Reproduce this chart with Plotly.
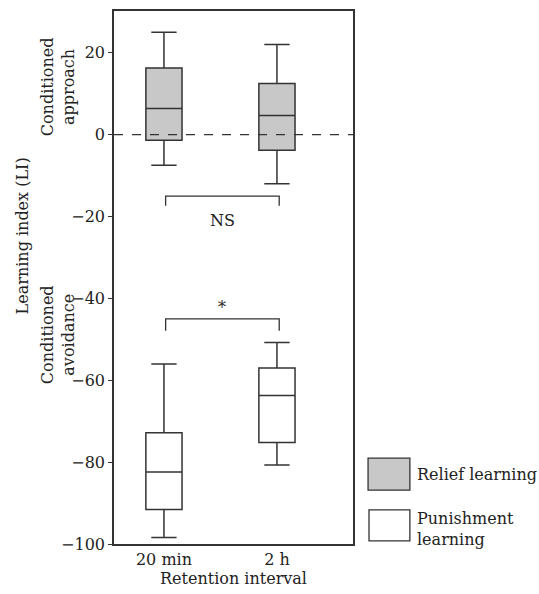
import plotly.graph_objects as go

# Retention intervals (x positions 0 and 1)
intervals = ["20 min", "2 h"]
positions = [0, 1]

# Relief learning (conditioned approach) box statistics
relief_upper = [25.0, 22.0]
relief_q3 = [16.3, 12.5]
relief_median = [6.4, 4.7]
relief_q1 = [-1.4, -3.8]
relief_lower = [-7.5, -12.0]

# Punishment learning (conditioned avoidance) box statistics
punish_upper = [-56.0, -50.8]
punish_q3 = [-72.8, -57.0]
punish_median = [-82.4, -63.7]
punish_q1 = [-91.6, -75.2]
punish_lower = [-98.4, -80.7]

# Significance brackets: (bar level, tick end level, label)
brackets = [(-15.0, -17.4, "NS"), (-45.0, -47.9, "*")]

y_ticks = [20, 0, -20, -40, -60, -80, -100]
y_labels = ["20", "0", "\u221220", "\u221240", "\u221260", "\u221280", "\u2212100"]

FONT = "DejaVu Serif"
FS = 16
LINE = "#333333"
GRAY = "#c8c8c8"
TXT = "#222222"

fig = go.Figure()

fig.add_trace(go.Box(
    x=positions, q1=relief_q1, median=relief_median, q3=relief_q3,
    lowerfence=relief_lower, upperfence=relief_upper,
    width=0.32, whiskerwidth=0.7, fillcolor=GRAY,
    line=dict(color=LINE, width=1.5), name="Relief learning",
    boxpoints=False, showlegend=False, hoverinfo="skip",
))
fig.add_trace(go.Box(
    x=positions, q1=punish_q1, median=punish_median, q3=punish_q3,
    lowerfence=punish_lower, upperfence=punish_upper,
    width=0.32, whiskerwidth=0.7, fillcolor="white",
    line=dict(color=LINE, width=1.5), name="Punishment learning",
    boxpoints=False, showlegend=False, hoverinfo="skip",
))

shapes = []
annotations = []


def label(text, **kw):
    base = dict(showarrow=False, font=dict(family=FONT, size=FS, color=TXT))
    base.update(kw)
    base["text"] = text
    annotations.append(base)


# Zero reference line
shapes.append(dict(type="line", xref="paper", x0=0, x1=1, yref="y", y0=0, y1=0,
                   line=dict(color=LINE, width=1.3, dash="dash")))

# Brackets between the two intervals
for bar, end, text in brackets:
    x0, x1 = positions[0] + 0.015, positions[1] + 0.02
    shapes.append(dict(type="path",
                       path=f"M {x0},{end} L {x0},{bar} L {x1},{bar} L {x1},{end}",
                       line=dict(color=LINE, width=1.3)))
    if text == "NS":
        label(text, x=(x0 + x1) / 2, y=end, yshift=-3, xanchor="center", yanchor="top")
    else:
        label(text, x=(x0 + x1) / 2, y=bar, yshift=0, xanchor="center", yanchor="bottom")

# Axis side labels
label("Learning index (LI)", xref="paper", yref="paper", x=-0.385, y=0.579,
      textangle=-90, xanchor="center", yanchor="middle")
label("Conditioned<br>approach", xref="paper", yref="paper", x=-0.236, y=0.858,
      textangle=-90, xanchor="center", yanchor="middle")
label("Conditioned<br>avoidance", xref="paper", yref="paper", x=-0.236, y=0.393,
      textangle=-90, xanchor="center", yanchor="middle")

# Legend keys
shapes.append(dict(type="rect", xref="paper", yref="paper", x0=1.063, x1=1.238,
                   y0=0.101, y1=0.161, fillcolor=GRAY, line=dict(color=LINE, width=1.3)))
shapes.append(dict(type="rect", xref="paper", yref="paper", x0=1.067, x1=1.238,
                   y0=0.006, y1=0.064, fillcolor="white", line=dict(color=LINE, width=1.3)))
label("Relief learning", xref="paper", yref="paper", x=1.258, y=0.131,
      xanchor="left", yanchor="middle")
label("Punishment<br>learning", xref="paper", yref="paper", x=1.258, y=0.028,
      xanchor="left", yanchor="middle", align="left")

fig.update_layout(
    width=539, height=594,
    margin=dict(l=114, r=186, t=9, b=50),
    paper_bgcolor="white", plot_bgcolor="white",
    font=dict(family=FONT, size=FS, color=TXT),
    shapes=shapes, annotations=annotations,
    showlegend=False,
    xaxis=dict(range=[-0.442, 1.673], tickvals=positions, ticktext=intervals,
               showgrid=False, zeroline=False, showline=True, mirror=True,
               linecolor=LINE, linewidth=1.5, ticks="",
               tickfont=dict(family=FONT, size=FS, color=TXT),
               title=dict(text="Retention interval", standoff=3,
                          font=dict(family=FONT, size=FS, color=TXT))),
    yaxis=dict(range=[-100, 30.2], tickvals=y_ticks, ticktext=y_labels,
               showgrid=False, zeroline=False, showline=True, mirror=True,
               linecolor=LINE, linewidth=1.5, ticks="outside", ticklen=4,
               tickcolor=LINE, tickfont=dict(family=FONT, size=FS, color=TXT)),
)

fig.write_html("out.html")
